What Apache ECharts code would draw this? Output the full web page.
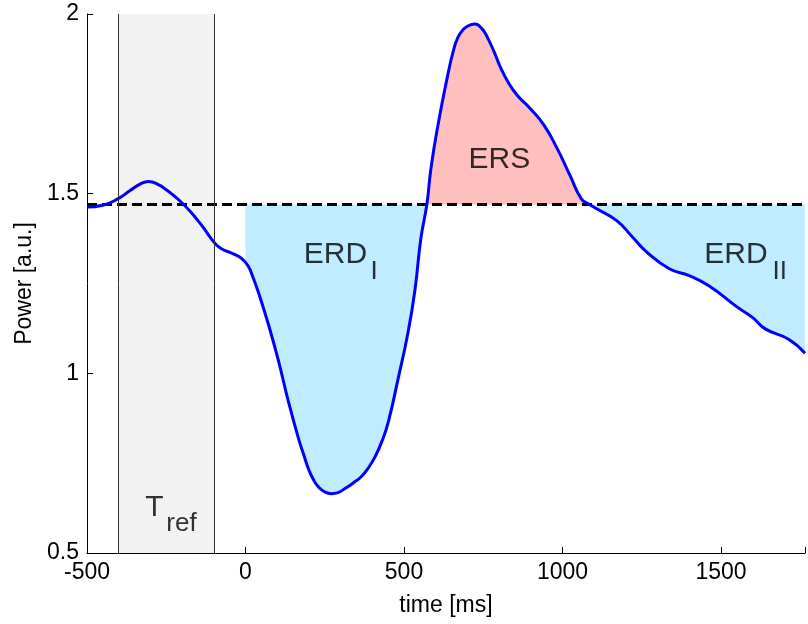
<!DOCTYPE html>
<html>
<head>
<meta charset="utf-8">
<script src="https://cdn.jsdelivr.net/npm/echarts@6/dist/echarts.min.js"></script>
<style>html,body{margin:0;padding:0;background:#fff}#c{width:808px;height:624px}</style>
</head>
<body>
<div id="c"></div>
<script>
// time [ms] of the power curve
var timeMs = [-500,-450,-400,-365,-330,-305,-275,-250,-225,-200,-177,-150,-130,-110,-90,-70,-40,-10,10,22,42,74,105,136,168,185,199,215,230,250,271,292,315,340,365,390,409,430,450,481,513,535,553,572,585,607,638,655,669,685,700,723,745,763,785,804,830,857,898,942,983,1024,1060,1085,1108,1171,1220,1265,1337,1400,1463,1547,1600,1641,1713,1765];
// power [a.u.]
var power = [1.463,1.468,1.487,1.508,1.528,1.534,1.525,1.511,1.494,1.474,1.453,1.425,1.402,1.377,1.356,1.344,1.333,1.318,1.296,1.271,1.222,1.131,1.031,0.919,0.816,0.770,0.733,0.703,0.684,0.670,0.665,0.668,0.680,0.695,0.712,0.740,0.768,0.810,0.863,0.983,1.115,1.235,1.374,1.47,1.570,1.690,1.830,1.895,1.933,1.955,1.966,1.972,1.960,1.935,1.893,1.852,1.808,1.774,1.737,1.690,1.626,1.550,1.485,1.47,1.458,1.425,1.380,1.338,1.291,1.272,1.243,1.187,1.155,1.123,1.095,1.056];
var baseline = 1.47;            // reference power level (dashed)
var refWindow = [-400, -100];   // T_ref interval [ms]
var erd1Range = [0, 572];       // ERD I interval
var ersRange = [572, 1085];     // ERS interval
var erd2Range = [1085, 1765];   // ERD II interval
var xTicks = [-500, 0, 500, 1000, 1500];
var yTicks = [0.5, 1, 1.5, 2];
var xMin = -500, xMax = 1765;

var curve = timeMs.map(function (t, i) { return [t, power[i]]; });
function part(r) {
  var pts = curve.filter(function (p) { return p[0] >= r[0] && p[0] <= r[1]; });
  if (pts[0][0] > r[0]) {
    // value of the curve at the range start, taken from its neighbours
    var j = timeMs.findIndex(function (t) { return t > r[0]; });
    var a = curve[j - 1], b = curve[j];
    pts.unshift([r[0], a[1] + (b[1] - a[1]) * (r[0] - a[0]) / (b[0] - a[0])]);
  }
  return pts;
}

var FONT = '"Liberation Sans", Arial, Helvetica, sans-serif';
var SMOOTH = 0.5;
function fill(name, r, color) {
  return {
    name: name, type: 'line', data: part(r), smooth: SMOOTH, symbol: 'none', silent: true, z: 2,
    lineStyle: { width: 0, opacity: 0 },
    areaStyle: { color: color, opacity: 1, origin: baseline }
  };
}
function txt(x, y, s, size) {
  return { value: [x, y], label: { show: true, position: 'inside', formatter: s, fontSize: size, color: '#000', textBorderWidth: 0, fontFamily: FONT } };
}

var chart = echarts.init(document.getElementById('c'), null, { renderer: 'canvas' });
chart.setOption({
  animation: false,
  backgroundColor: '#fff',
  grid: { left: 87, right: 0, top: 14, bottom: 71, containLabel: false },
  xAxis: {
    type: 'value', min: xMin, max: xMax, interval: 500,
    name: 'time [ms]', nameLocation: 'middle', nameGap: 41,
    nameTextStyle: { fontSize: 23, color: '#000', fontFamily: FONT },
    axisLine: { show: true, onZero: false, lineStyle: { color: '#000', width: 1 } },
    axisTick: { show: true, inside: true, length: 6, lineStyle: { color: '#000' } },
    axisLabel: { fontSize: 23, color: '#000', margin: 8, fontFamily: FONT,
      formatter: function (v) { return xTicks.indexOf(v) >= 0 ? String(v) : ''; } },
    splitLine: { show: false }
  },
  yAxis: {
    type: 'value', min: 0.5, max: 2, interval: 0.5,
    name: 'Power [a.u.]', nameLocation: 'middle', nameGap: 49,
    nameTextStyle: { fontSize: 23, color: '#000', fontFamily: FONT },
    axisLine: { show: true, onZero: false, lineStyle: { color: '#000', width: 1 } },
    axisTick: { show: true, inside: true, length: 6, lineStyle: { color: '#000' } },
    axisLabel: { fontSize: 23, color: '#000', margin: 8, fontFamily: FONT,
      formatter: function (v) { return yTicks.indexOf(v) >= 0 ? String(v) : ''; } },
    splitLine: { show: false }
  },
  series: [
    {
      name: 'ref', type: 'line', data: [], silent: true, z: 1,
      markArea: { silent: true, itemStyle: { color: '#f2f2f2', borderWidth: 0 },
        data: [[{ xAxis: refWindow[0] }, { xAxis: refWindow[1] }]] },
      markLine: { silent: true, symbol: 'none', label: { show: false },
        lineStyle: { color: '#333', width: 1, type: 'solid' },
        data: [{ xAxis: refWindow[0] }, { xAxis: refWindow[1] }] }
    },
    fill('ERD I', erd1Range, '#bfecfe'),
    fill('ERS', ersRange, '#ffbfbf'),
    fill('ERD II', erd2Range, '#bfecfe'),
    {
      name: 'baseline', type: 'line', data: [[xMin, baseline], [xMax, baseline]], symbol: 'none', silent: true, z: 3,
      lineStyle: { color: '#000', width: 3, type: [10, 5] }
    },
    {
      name: 'power', type: 'line', data: curve, smooth: SMOOTH, symbol: 'none', silent: true, z: 4,
      lineStyle: { color: '#0000ff', width: 3 }
    },
    {
      name: 'labels', type: 'scatter', symbolSize: 0, silent: true, z: 5,
      data: [
        txt(284, 1.330, 'ERD', 30), txt(406, 1.282, 'I', 26),
        txt(801, 1.595, 'ERS', 30),
        txt(1547, 1.330, 'ERD', 30), txt(1685, 1.282, 'II', 26),
        txt(-287, 0.626, 'T', 30), txt(-202, 0.581, 'ref', 26)
      ]
    }
  ]
});
</script>
</body>
</html>
